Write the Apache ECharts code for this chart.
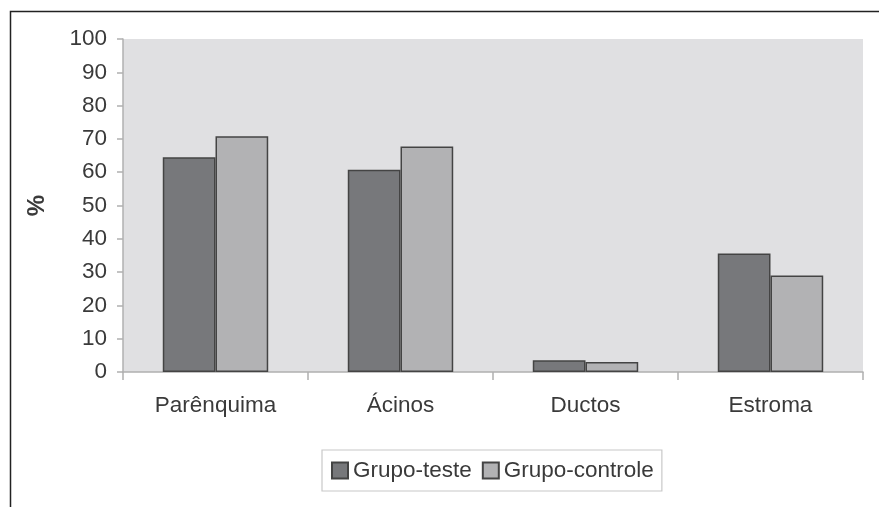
<!DOCTYPE html>
<html><head><meta charset="utf-8">
<script src="https://cdn.jsdelivr.net/npm/echarts@6/dist/echarts.min.js"></script>
<style>html,body{margin:0;padding:0;background:#fff}#c{width:879px;height:507px}</style>
</head><body><div id="c"></div>
<script>
var categories = ['Parênquima', 'Ácinos', 'Ductos', 'Estroma'];
var grupoTeste = [64.5, 60.7, 3.5, 35.6];
var grupoControle = [70.8, 67.7, 3.0, 29.0];
var seriesNames = ['Grupo-teste', 'Grupo-controle'];

var chart = echarts.init(document.getElementById('c'), null, {renderer: 'canvas'});
var font = 'Liberation Sans, Arial, sans-serif';
chart.setOption({
  animation: false,
  backgroundColor: '#fff',
  graphic: [
    {type: 'polyline', shape: {points: [[10.5, 507], [10.5, 11.5], [879, 11.5]]}, style: {stroke: '#222', lineWidth: 1.5, fill: null}, z: 10}
  ],
  grid: {left: 123, right: 16, top: 39, bottom: 135, show: true, backgroundColor: '#e0e0e2', borderWidth: 0},
  legend: {
    data: seriesNames,
    left: 322, top: 450,
    padding: [9, 8, 9, 9],
    borderColor: '#c8c8c8', borderWidth: 1.2,
    itemWidth: 16, itemHeight: 16, itemGap: 10,
    icon: 'rect',
    textStyle: {fontFamily: font, fontSize: 22.5, color: '#3a3a3a'}
  },
  xAxis: {
    type: 'category', data: categories,
    axisLine: {lineStyle: {color: '#b0b0b0', width: 1.5}},
    axisTick: {show: true, length: 8, lineStyle: {color: '#b0b0b0', width: 1.5}},
    axisLabel: {fontFamily: font, fontSize: 22.5, color: '#3a3a3a', margin: 22}
  },
  yAxis: {
    type: 'value', min: 0, max: 100, interval: 10,
    name: '%', nameLocation: 'middle', nameGap: 74, nameRotate: 90,
    nameTextStyle: {fontFamily: font, fontSize: 24, color: '#3a3a3a', fontWeight: 'bold'},
    axisLine: {show: true, lineStyle: {color: '#b0b0b0', width: 1.5}},
    axisTick: {show: true, length: 6, lineStyle: {color: '#b0b0b0', width: 1.5}},
    splitLine: {show: false},
    axisLabel: {fontFamily: font, fontSize: 22.5, color: '#3a3a3a', margin: 16}
  },
  series: [
    {name: seriesNames[0], type: 'bar', data: grupoTeste, barGap: '0%', barCategoryGap: '43%',
     itemStyle: {color: '#77787b', borderColor: '#444', borderWidth: 1.5}},
    {name: seriesNames[1], type: 'bar', data: grupoControle,
     itemStyle: {color: '#b2b2b4', borderColor: '#444', borderWidth: 1.5}}
  ]
});
</script></body></html>
